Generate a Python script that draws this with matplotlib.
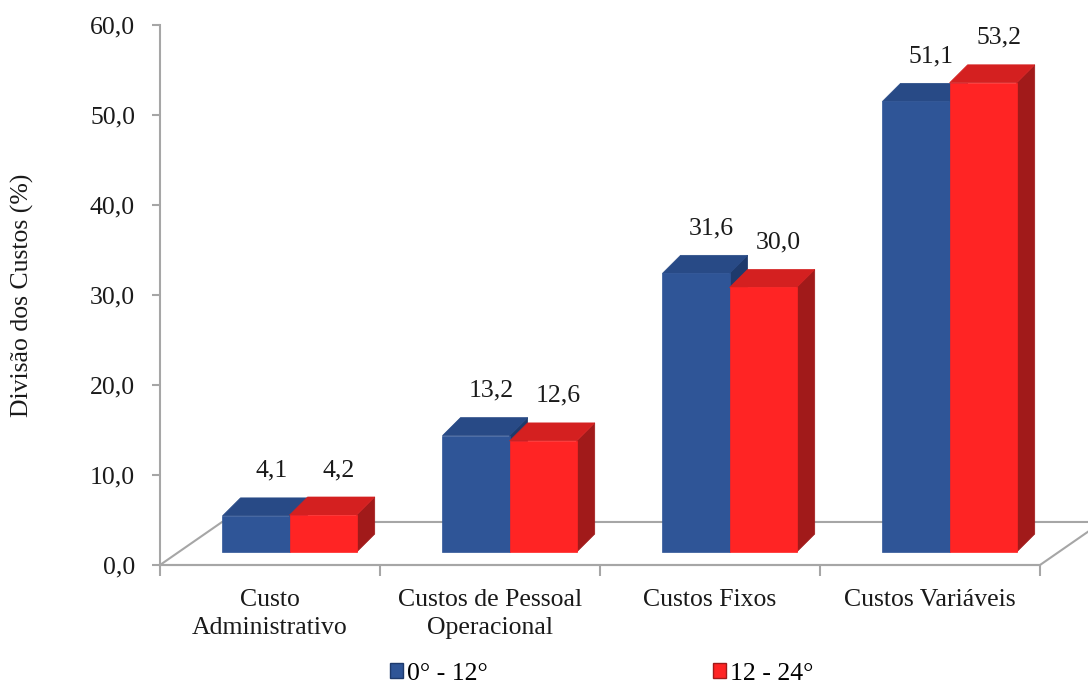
import matplotlib
matplotlib.use("Agg")
import matplotlib.pyplot as plt
from matplotlib.patches import Polygon, Patch
from matplotlib.ticker import FixedLocator, FuncFormatter

# Cost breakdown per age band
categorias = ["Custo\nAdministrativo", "Custos de Pessoal\nOperacional",
              "Custos Fixos", "Custos Variáveis"]
series = ["0° - 12°", "12 - 24°"]
valores_0_12 = [4.1, 13.2, 31.6, 51.1]
valores_12_24 = [4.2, 12.6, 30.0, 53.2]

plt.rcParams["font.family"] = ["Liberation Serif", "DejaVu Serif"]
fs = 18.5

# Face colours: front, top, side
cores = [("#2f5597", "#284a86", "#1e3a6c"),
         ("#ff2424", "#d42020", "#a11a1a")]

fig = plt.figure(figsize=(10.88, 6.86), dpi=100)
ax = fig.add_axes([160 / 1088, 121 / 686, 880 / 1088, 540 / 686])
ax.set_xlim(-0.5, 3.5)
ax.set_ylim(0, 60)

cinza = "#a6a6a6"

# Floor of the 3D plot (depth expressed in data units)
piso_dx, piso_dy = 0.282, 4.78
n = len(categorias)
piso = Polygon([(-0.5, 0), (n - 0.5, 0), (n - 0.5 + piso_dx, piso_dy),
                (-0.5 + piso_dx, piso_dy)], closed=True, facecolor="white",
               edgecolor=cinza, lw=1.5, clip_on=False, zorder=1)
ax.add_patch(piso)

# Bars sit halfway into the floor, slightly shrunk by perspective
base = 1.44
escala = 0.98
desloc = 0.089
largura = 0.305
bar_dx, bar_dy = 0.082, 2.0

for i in range(n):
    for s, vals in enumerate([valores_0_12, valores_12_24]):
        v = vals[i]
        xl = i + desloc - largura + s * largura
        xr = xl + largura
        altura = v * escala
        topo = base + altura
        frente, cima, lado = cores[s]
        lado_poly = Polygon([(xr, base), (xr + bar_dx, base + bar_dy),
                             (xr + bar_dx, topo + bar_dy), (xr, topo)],
                            closed=True, facecolor=lado, edgecolor=lado,
                            lw=0.5, clip_on=False, zorder=3 + s)
        cima_poly = Polygon([(xl, topo), (xr, topo), (xr + bar_dx, topo + bar_dy),
                             (xl + bar_dx, topo + bar_dy)],
                            closed=True, facecolor=cima, edgecolor=cima,
                            lw=0.5, clip_on=False, zorder=3 + s)
        ax.add_patch(lado_poly)
        ax.add_patch(cima_poly)
        ax.bar(xl, altura, width=largura, bottom=base, align="edge",
               color=frente, edgecolor=frente, lw=0.5, zorder=3 + s,
               clip_on=False)
        ax.text(xl + largura / 2 + 0.07, topo + bar_dy + 3.0,
                f"{v:.1f}".replace(".", ","), ha="center", va="center",
                fontsize=fs, color="#1a1a1a", zorder=6)

# Axes styling
for lado_sp in ["top", "right"]:
    ax.spines[lado_sp].set_visible(False)
for lado_sp in ["left", "bottom"]:
    ax.spines[lado_sp].set_color(cinza)
    ax.spines[lado_sp].set_linewidth(1.5)
ax.set_facecolor("none")

ax.set_yticks(range(0, 61, 10))
ax.yaxis.set_major_formatter(FuncFormatter(lambda y, p: f"{y:.1f}".replace(".", ",")))
ax.tick_params(axis="y", length=6, width=1.5, color=cinza, labelsize=fs,
               pad=12, labelcolor="#1a1a1a")

ax.set_xticks(range(n))
ax.set_xticklabels(categorias, linespacing=1.35)
ax.xaxis.set_minor_locator(FixedLocator([i - 0.5 for i in range(n + 1)]))
ax.tick_params(axis="x", which="major", length=0, labelsize=fs, pad=17,
               labelcolor="#1a1a1a")
ax.tick_params(axis="x", which="minor", length=8, width=1.5, color=cinza)

ax.set_ylabel("Divisão dos Custos (%)", fontsize=fs, color="#1a1a1a",
              labelpad=40)

handles = [Patch(facecolor=cores[0][0], edgecolor=cores[0][2], label=series[0]),
           Patch(facecolor=cores[1][0], edgecolor=cores[1][2], label=series[1])]
fig.legend(handles=handles, loc="center", bbox_to_anchor=(0.553, 0.018),
           ncol=2, frameon=False, fontsize=fs, handlelength=0.5,
           handleheight=0.5, handletextpad=0.15, columnspacing=8.8,
           borderpad=0)

fig.savefig("out.png", dpi=100)
